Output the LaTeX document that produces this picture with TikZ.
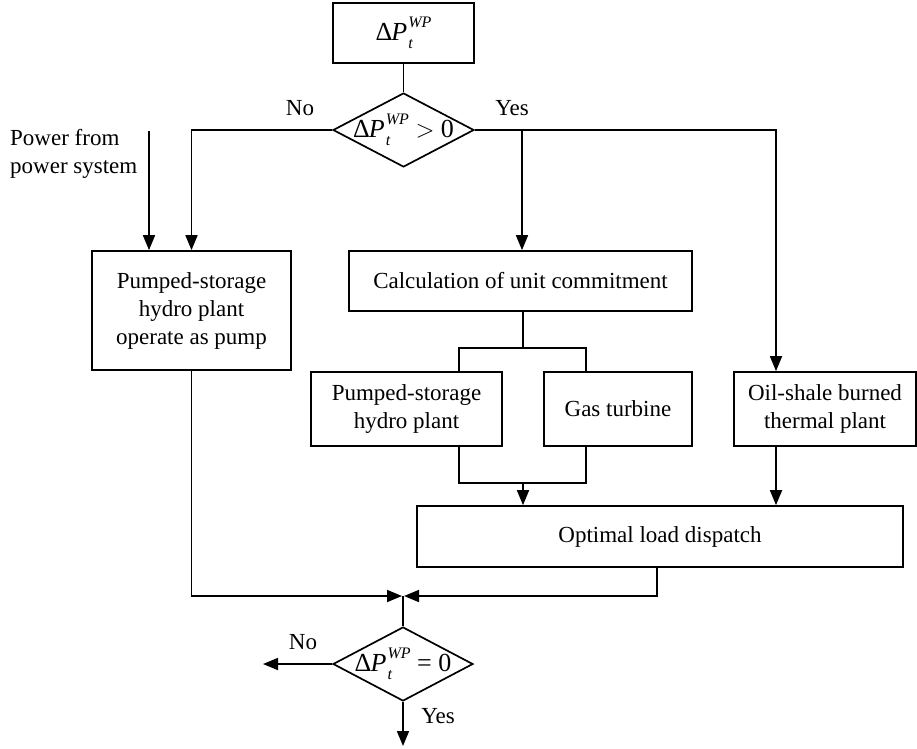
\documentclass[tikz,border=0pt]{standalone}
\usepackage{fontspec}
\setmainfont{Liberation Serif}
\usetikzlibrary{arrows.meta,shapes.geometric}
\newcommand\dP{{\fontsize{26}{28}\selectfont Δ\kern-0.03em\textit{P}\kern0.04em\makebox[0pt][l]{\raisebox{-0.32em}{\fontsize{16}{16}\selectfont\textit{t}}}\raisebox{0.5em}{\fontsize{16}{16}\selectfont\textit{WP}}}}
\newcommand\mrel[1]{{\fontsize{26}{28}\selectfont\ #1 0}}
\tikzset{
  box/.style={draw, line width=1.7pt, inner sep=0pt, align=center, font=\fontsize{23}{28}\selectfont},
  dia/.style={draw, line width=1.7pt, diamond, inner sep=0pt},
  lbl/.style={font=\fontsize{23}{28}\selectfont, inner sep=0pt},
  ln/.style={line width=1.7pt},
  arr/.style={line width=1.7pt, -{Triangle[length=15pt,width=12pt]}}
}
\begin{document}
\begin{tikzpicture}[x=1pt,y=-1pt]
\useasboundingbox (0,0) rectangle (917,748);
% nodes
\node[box, minimum width=141pt, minimum height=60pt] (top) at (403.5,33) {\dP};
\node[dia, minimum width=141pt, minimum height=74pt] (d1) at (403.5,130) {};
\node[lbl] (d1t) at (d1.center) {\dP\mrel{$>$}};
\node[box, minimum width=199pt, minimum height=119pt] (lbox) at (191.5,310.5) {Pumped-storage\\hydro plant\\operate as pump};
\node[box, minimum width=343pt, minimum height=60pt] (calc) at (520.5,281) {Calculation of unit commitment};
\node[box, minimum width=191pt, minimum height=74pt] (psh) at (406.5,409) {Pumped-storage\\hydro plant};
\node[box, minimum width=148pt, minimum height=74pt] (gas) at (618,409) {Gas turbine};
\node[box, minimum width=182pt, minimum height=74pt] (oil) at (825,409) {Oil-shale burned\\thermal plant};
\node[box, minimum width=486pt, minimum height=61pt] (opt) at (660,536.5) {Optimal load dispatch};
\node[dia, minimum width=140pt, minimum height=74pt] (d2) at (403,664) {};
\node[lbl] (d2t) at (d2.center) {\dP\mrel{=}};
% labels
\node[lbl] (no1) at (300,108) {No};
\node[lbl] (yes1) at (512,108) {Yes};
\node[lbl] (no2) at (303,642) {No};
\node[lbl] (yes2) at (438,716) {Yes};
\node[lbl, anchor=west, align=left] (pw) at (10,154) {Power from\\power system};
% coordinates
\coordinate (pwtop) at (149,131);
\coordinate (rx) at (776,130);
\coordinate (bx) at (522,130);
\coordinate (s1) at (459,348);
\coordinate (s2) at (586,348);
\coordinate (j1) at (459,483);
\coordinate (j2) at (586,483);
\coordinate (jm) at (523,483);
\coordinate (ob) at (657,596);
\coordinate (mid) at (403,596);
\coordinate (noend) at (263,664);
\coordinate (yesend) at (403,746);
% connectors
\draw[ln] (top.south) -- (d1.north);
\draw[arr] (d1.west) -| (lbox.north);
\draw[arr] (pwtop) -- (pwtop |- lbox.north);
\draw[arr] (d1.east) -- (rx) -- (rx |- oil.north);
\draw[arr] (bx |- d1.east) -- (bx |- calc.north);
\draw[ln] (calc.south -| jm) -- (jm |- s1);
\draw[ln] (s1 |- psh.north) -- (s1) -- (s2) -- (s2 |- gas.north);
\draw[ln] (j1 |- psh.south) -- (j1) -- (j2) -- (j2 |- gas.south);
\draw[arr] (jm) -- (jm |- opt.north);
\draw[arr] (rx |- oil.south) -- (rx |- opt.north);
\draw[arr] (lbox.south) -- (lbox.south |- mid) -- ([xshift=-1pt]mid);
\draw[arr] (ob |- opt.south) -- (ob) -- ([xshift=1pt]mid);
\draw[ln] (mid) -- (d2.north);
\draw[arr] (d2.west) -- (noend);
\draw[arr] (d2.south) -- (yesend);
\end{tikzpicture}
\end{document}
